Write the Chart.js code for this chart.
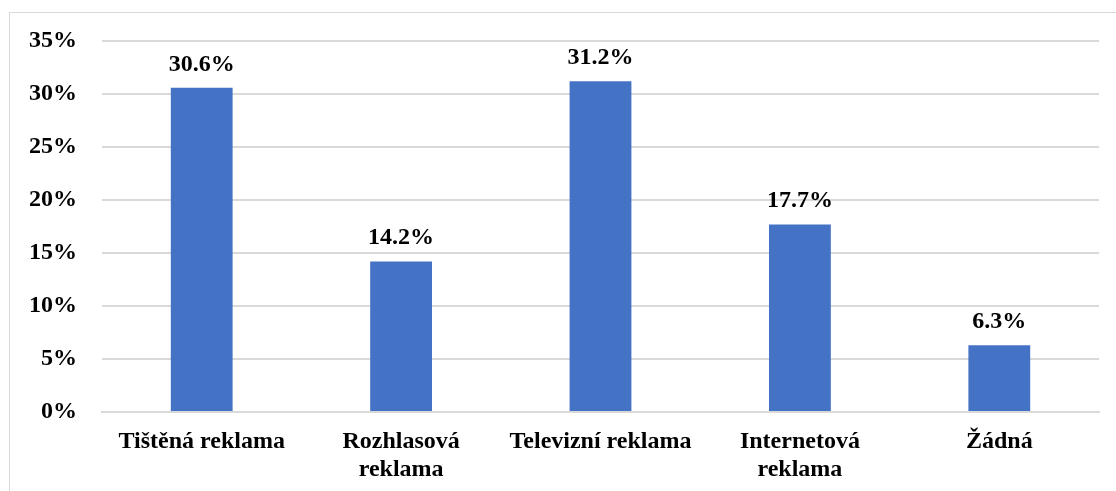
<!DOCTYPE html>
<html>
<head>
<meta charset="utf-8">
<script src="https://cdn.jsdelivr.net/npm/chart.js@4"></script>
<style>
  html, body { margin: 0; padding: 0; background: #fff; }
  #wrap { position: relative; width: 1116px; height: 491px; overflow: hidden; }
  #frame { position: absolute; left: 9px; top: 12px; width: 1200px; height: 600px; border: 1.5px solid #d9d9d9; box-sizing: border-box; }
  canvas { position: absolute; left: 0; top: 0; }
</style>
</head>
<body>
<div id="wrap">
  <div id="frame"></div>
  <canvas id="c" width="1116" height="491"></canvas>
</div>
<script>
const categories = [
  ["Tištěná reklama"],
  ["Rozhlasová", "reklama"],
  ["Televizní reklama"],
  ["Internetová", "reklama"],
  ["Žádná"]
];
const values = [30.6, 14.2, 31.2, 17.7, 6.3];
const yMin = 0, yMax = 35, yStep = 5;

const FONT = "'Liberation Serif', 'Times New Roman', serif";

const valueLabels = {
  id: 'valueLabels',
  afterDatasetsDraw(chart) {
    const ctx = chart.ctx;
    const meta = chart.getDatasetMeta(0);
    ctx.save();
    ctx.font = "bold 24px " + FONT;
    ctx.fillStyle = '#000';
    ctx.textAlign = 'center';
    ctx.textBaseline = 'alphabetic';
    meta.data.forEach((bar, i) => {
      ctx.fillText(values[i].toFixed(1) + '%', bar.x, bar.y - 17);
    });
    ctx.restore();
  }
};

new Chart(document.getElementById('c'), {
  type: 'bar',
  data: {
    labels: categories,
    datasets: [{
      data: values,
      backgroundColor: '#4472C4',
      borderWidth: 0,
      categoryPercentage: 1,
      barPercentage: 0.31
    }]
  },
  options: {
    responsive: false,
    animation: false,
    devicePixelRatio: 1,
    layout: { padding: { top: 41, right: 17, left: 0, bottom: 0 } },
    plugins: { legend: { display: false }, tooltip: { enabled: false } },
    scales: {
      x: {
        grid: { display: false, drawTicks: false },
        border: { display: true, color: '#d9d9d9', width: 2 },
        ticks: { color: '#000', font: { family: FONT, size: 24, weight: 'bold', lineHeight: 1.15 }, padding: 16, maxRotation: 0, autoSkip: false },
        afterFit(s) { s.height = 79; }
      },
      y: {
        min: yMin, max: yMax,
        grid: { color: '#d9d9d9', lineWidth: 2, drawTicks: false },
        border: { display: false },
        ticks: { stepSize: yStep, color: '#000', font: { family: FONT, size: 24, weight: 'bold' }, padding: 25, callback: v => v + '%' },
        afterFit(s) { s.width = 102; }
      }
    }
  },
  plugins: [valueLabels]
});
</script>
</body>
</html>
